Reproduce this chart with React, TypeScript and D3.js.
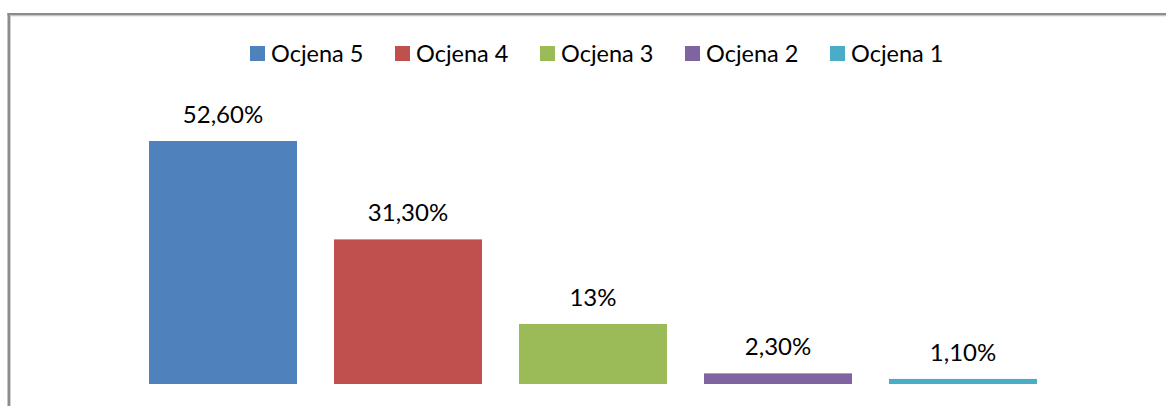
import React from "react";
import * as d3 from "d3";

const seriesNames = ["Ocjena 5", "Ocjena 4", "Ocjena 3", "Ocjena 2", "Ocjena 1"];
const values = [52.6, 31.3, 13, 2.3, 1.1];
const valueLabels = ["52,60%", "31,30%", "13%", "2,30%", "1,10%"];
const colors = ["#4F81BD", "#C0504D", "#9BBB59", "#8064A2", "#4BACC6"];

const W = 1166;
const H = 406;
const FONT = "Lato, 'Open Sans', sans-serif";

export default function App() {
  const x = d3
    .scaleBand<string>()
    .domain(seriesNames)
    .range([130.5, 1055.5])
    .paddingInner(0.2)
    .paddingOuter(0.1);
  const y = d3.scaleLinear().domain([0, 60]).range([384, 384 - 60 * 4.62]);

  const legendX = d3
    .scalePoint<string>()
    .domain(seriesNames)
    .range([250, 830]);

  return (
    <svg
      width={W}
      height={H}
      style={{ position: "absolute", left: 0, top: 0, background: "#fff" }}
    >
      {/* chart border */}
      <rect x={7.5} y={13} width={W} height={2.5} fill="#8c8c8c" />
      <rect x={7.5} y={13} width={2.5} height={H} fill="#8c8c8c" />
      <rect x={10} y={15.5} width={W} height={0.8} fill="#c8c8c8" />
      <rect x={10} y={15.5} width={0.8} height={H} fill="#c8c8c8" />

      {/* legend */}
      {seriesNames.map((s, i) => (
        <g key={s}>
          <rect x={legendX(s)} y={46} width={15} height={15} fill={colors[i]} />
          <text
            x={(legendX(s) as number) + 21}
            y={61.5}
            fontFamily={FONT}
            fontSize={23.5}
            fill="#000"
          >
            {s}
          </text>
        </g>
      ))}

      {/* bars */}
      {seriesNames.map((s, i) => (
        <g key={s}>
          <rect
            x={x(s)}
            y={y(values[i])}
            width={x.bandwidth()}
            height={y(0) - y(values[i])}
            fill={colors[i]}
          />
          <text
            x={(x(s) as number) + x.bandwidth() / 2}
            y={y(values[i]) - 18}
            textAnchor="middle"
            fontFamily={FONT}
            fontSize={24}
            fill="#000"
          >
            {valueLabels[i]}
          </text>
        </g>
      ))}
    </svg>
  );
}
